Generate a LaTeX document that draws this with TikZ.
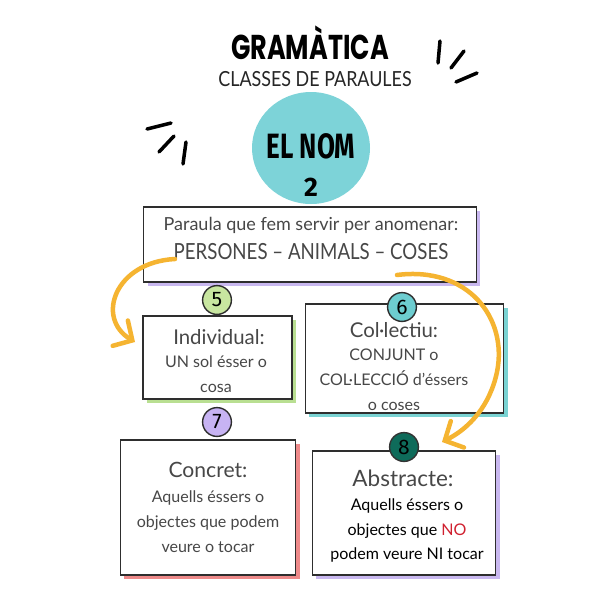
\documentclass[tikz,border=0pt]{standalone}
\usepackage{fontspec}
\setmainfont{Lato}
\newfontfamily\titlefont{Poppins}
\newfontfamily\headfont{Fira Sans}
\usetikzlibrary{arrows.meta,shadows}
\definecolor{boxline}{HTML}{2E2E2E}
\definecolor{bodytxt}{HTML}{474747}
\definecolor{blobteal}{HTML}{7DD3D8}
\definecolor{greenbadge}{HTML}{C8E6A0}
\definecolor{tealbadge}{HTML}{6DCDD0}
\definecolor{purplebadge}{HTML}{C7B3F3}
\definecolor{darkbadge}{HTML}{0E6B5A}
\definecolor{shpurple}{HTML}{C9B8F0}
\definecolor{shgreen}{HTML}{B9DF92}
\definecolor{shteal}{HTML}{7AD3D3}
\definecolor{shred}{HTML}{EE8A8A}
\definecolor{arroworange}{HTML}{F5B431}
\definecolor{nored}{HTML}{D0202F}
\begin{document}
\begin{tikzpicture}[x=0.025cm,y=-0.025cm,
  cardbox/.style={draw=boxline, line width=1.1pt, fill=white, inner sep=0pt},
  shad/.style={general shadow={fill=#1, shadow xshift=2.8pt, shadow yshift=-2.8pt}},
  ray/.style={draw=black, line width=2.5pt, line cap=round},
  orangearrow/.style={draw=arroworange, line width=3.2pt, line cap=round,
    -{Straight Barb[length=10pt,width=21pt,line cap=round]}},
  badge/.style={circle, draw=boxline, line width=1pt, minimum size=20.5pt, inner sep=0pt,
    font=\headfont\fontsize{15}{15}\selectfont},
  head/.style={text=bodytxt, font=\fontsize{14.5}{16}\selectfont},
  body/.style={text=bodytxt, align=center, font=\fontsize{11.4}{17.7}\selectfont}
]
\useasboundingbox[fill=white] (0,0) rectangle (600,600);

% title
\node[inner sep=0pt] (title) at (310,43) {\scalebox{0.74}[1]{\titlefont\bfseries\fontsize{24.5}{25}\selectfont GRAMÀTICA}};
\node[inner sep=0pt] (subtitle) at (315,79) {\scalebox{0.86}[1]{\fontsize{14.8}{15}\selectfont\color{black!85} CLASSES DE PARAULES}};

% rays
\draw[ray] (147,129) -- (171,123);
\draw[ray] (159,152) -- (174,136);
\draw[ray] (186,142) -- (183,164);
\draw[ray] (440,41) -- (438,63);
\draw[ray] (451,68) -- (464,51);
\draw[ray] (456,82) -- (477,73);

% blob
\fill[blobteal] (311,148) ellipse [x radius=59, y radius=56];
\node (elnom) at (311,146) {\scalebox{0.74}[1]{\headfont\bfseries\fontsize{25}{25}\selectfont EL NOM}};
\node (two) at (311,187) {\headfont\bfseries\fontsize{19}{19}\selectfont 2};

% top box
\node[cardbox, shad=shpurple, minimum width=236.7pt, minimum height=53.2pt] (top) at (310,244.5) {};
\node[text=bodytxt, font=\fontsize{12.8}{14}\selectfont] (topl1) at (311,225) {Paraula que fem servir per anomenar:};
\node[text=bodytxt] (topl2) at (311,252) {\scalebox{0.84}[1]{\fontsize{15.8}{16}\selectfont PERSONES – ANIMALS – COSES}};

% individual
\node[cardbox, shad=shgreen, minimum width=105.6pt, minimum height=58.8pt] (ind) at (217.5,357.5) {};
\node[head] (indh) at (219,337) {Individual:};
\node[body] (indb) at (216,374.5) {UN sol ésser o\\cosa};

% collectiu
\node[cardbox, shad=shteal, minimum width=141pt, minimum height=77.2pt] (col) at (404.5,358.5) {};
\node[head] (colh) at (394,330) {Col·lectiu:};
\node[body] (colb) at (394,379.5) {CONJUNT o\\COL·LECCIÓ d’éssers\\o coses};

% concret
\node[cardbox, shad=shred, minimum width=124.7pt, minimum height=95.7pt] (con) at (208,507.5) {};
\node[head, font=\fontsize{15}{16}\selectfont] (conh) at (208,470) {Concret:};
\node[body] (conb) at (208,521.5) {Aquells éssers o\\objectes que podem\\veure o tocar};

% abstracte
\node[cardbox, shad=shpurple, minimum width=130.4pt, minimum height=87.9pt] (abs) at (404,513) {};
\node[head, font=\fontsize{16}{17}\selectfont] (absh) at (403,478) {Abstracte:};
\node[body, text=black] (absb) at (407,530.5) {Aquells éssers o\\objectes que \textcolor{nored}{NO}\\podem veure NI tocar};

% badges
\node[badge, fill=greenbadge] (b5) at (217,300) {5};
\node[badge, fill=tealbadge] (b6) at (402,307) {6};
\node[badge, fill=purplebadge] (b7) at (217,422) {7};
\node[badge, fill=darkbadge, draw=black!80] (b8) at (404,447) {8};

% arrows
\coordinate (a1s) at (175,259);
\coordinate (a1e) at (135,342);
\coordinate (a2s) at (397,275);
\coordinate (a2m) at (497,372);
\coordinate (a2e) at (442,442);
\draw[orangearrow] (a1s) .. controls (115,262) and (95,318) .. (a1e);
\draw[orangearrow] (a2s) .. controls (468,266) and (508,318) .. (a2m) .. controls (490,405) and (470,428) .. (a2e);
\end{tikzpicture}
\end{document}
